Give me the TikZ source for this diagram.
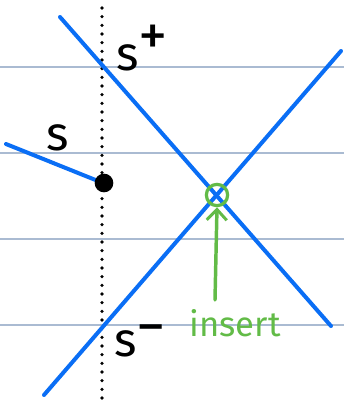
\documentclass[tikz,border=0pt]{standalone}
\usepackage{fontspec}
\setsansfont{Fira Sans}
\usepackage{xcolor}
\definecolor{penBlue}{HTML}{0A6EF5}
\definecolor{penGreen}{HTML}{62BB47}
\definecolor{ruleGray}{HTML}{AABBD2}
\usetikzlibrary{arrows.meta, positioning}
\newcommand{\upmark}[2]{\raisebox{#1}{\fontsize{44}{44}\selectfont #2}}
\tikzset{
    % Ruled paper lines
    paper rule/.style={draw=ruleGray, line width=0.8pt},
    % Pen strokes
    pen line/.style={draw=penBlue, line width=3pt, line cap=round},
    dot line/.style={draw=black, line width=2.7pt, line cap=round, dash pattern=on 0pt off 6.5pt},
    % Handwritten labels
    hand label/.style={font=\sffamily\fontsize{36}{36}\selectfont, inner sep=0pt},
    % Insert marker
    insert mark/.style={circle, draw=penGreen, line width=2.4pt, minimum size=16pt, inner sep=0pt},
    insert arrow/.style={-{Straight Barb[length=8pt, width=15pt, line width=2.2pt]}, draw=penGreen, line width=2.6pt, line cap=round},
}

\begin{document}
\begin{tikzpicture}[x=0.75pt, y=-0.75pt]
    \useasboundingbox (0,0) rectangle (344,408);

    % ruled lines
    \foreach \y in {67,153,239,325}
        \draw [paper rule] (0,\y) -- (344,\y);

    % dotted sweep line
    \coordinate (top) at (102,8);
    \coordinate (bot) at (102,404);
    \draw [dot line] (top) -- (bot);

    % segments
    \coordinate (plusA) at (60,17);
    \coordinate (plusB) at (331,326);
    \coordinate (minusA) at (341,51);
    \coordinate (minusB) at (44,395);
    \coordinate (sA) at (6,144);
    \coordinate (sB) at (103,183);
    \draw [pen line] (plusA) -- (plusB);
    \draw [pen line] (minusA) -- (minusB);
    \draw [pen line] (sA) -- (sB);

    % event point on sweep line
    \node (event) [circle, fill=black, minimum size=14pt, inner sep=0pt] at (104,183) {};

    % labels
    \node (lplus) [hand label, anchor=base west] at (116,70) {s\upmark{11pt}{+}};
    \node (lminus) [hand label, anchor=base west] at (114,356) {s\upmark{7pt}{\textminus}};
    \node (ls) [hand label, anchor=base west] at (46,150) {s};

    % intersection and insert arrow
    \node (cross) [insert mark] at (217,195) {};
    \node (ins) [hand label, text=penGreen, font=\sffamily\fontsize{26}{26}\selectfont, anchor=base] at (235,336) {insert};
    \draw [insert arrow] (215,300) -- (cross.south);
\end{tikzpicture}
\end{document}
